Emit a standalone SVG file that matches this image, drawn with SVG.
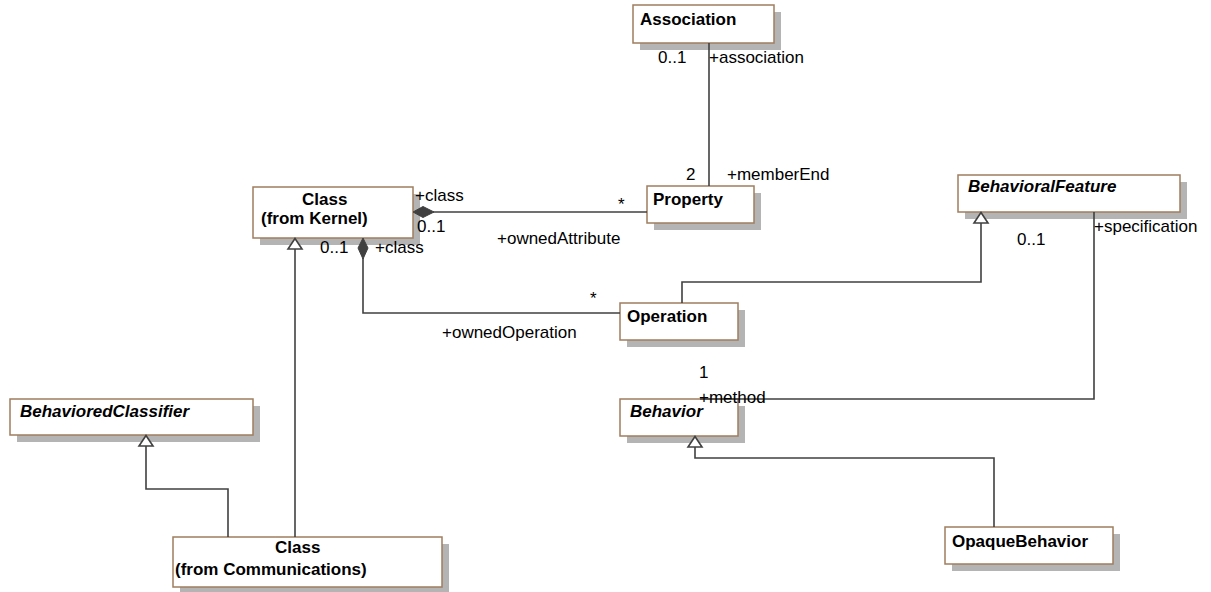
<svg xmlns="http://www.w3.org/2000/svg" width="1211" height="592" viewBox="0 0 1211 592">
  <style>
    .shadow { fill: #b4b4b4; }
    .box { fill: #ffffff; stroke: #a07d5e; stroke-width: 1.5; }
    .name { font-family: "Liberation Sans", Arial, sans-serif; font-size: 17px; font-weight: bold; fill: #000; }
    .abstract { font-style: italic; }
    .label { font-family: "Liberation Sans", Arial, sans-serif; font-size: 17px; fill: #000; }
    .edge { fill: none; stroke: #404040; stroke-width: 1.6; }
    .gen { fill: #ffffff; stroke: #404040; stroke-width: 1.6; }
    .comp { fill: #404040; stroke: #404040; stroke-width: 1; }
  </style>

  <rect width="1211" height="592" fill="#ffffff"/>

  <g id="association">
    <rect class="shadow" x="640" y="12" width="141" height="38"/>
    <rect class="box" x="633" y="5" width="141" height="38"/>
    <text class="name" x="640" y="25">Association</text>
  </g>

  <g id="class-kernel">
    <rect class="shadow" x="260" y="194" width="160" height="51"/>
    <rect class="box" x="253" y="187" width="160" height="51"/>
    <text class="name" x="302" y="205">Class</text>
    <text class="name" x="261" y="224">(from Kernel)</text>
  </g>

  <g id="property">
    <rect class="shadow" x="654" y="193" width="107" height="37"/>
    <rect class="box" x="647" y="186" width="107" height="37"/>
    <text class="name" x="653" y="205">Property</text>
  </g>

  <g id="behavioral-feature">
    <rect class="shadow" x="965" y="182" width="222" height="37"/>
    <rect class="box" x="958" y="175" width="222" height="37"/>
    <text class="name abstract" x="968" y="192">BehavioralFeature</text>
  </g>

  <g id="operation">
    <rect class="shadow" x="627" y="310" width="118" height="37"/>
    <rect class="box" x="620" y="303" width="118" height="37"/>
    <text class="name" x="627" y="322">Operation</text>
  </g>

  <g id="behaviored-classifier">
    <rect class="shadow" x="17" y="406" width="243" height="36"/>
    <rect class="box" x="10" y="399" width="243" height="36"/>
    <text class="name abstract" x="20" y="417">BehavioredClassifier</text>
  </g>

  <g id="behavior">
    <rect class="shadow" x="627" y="406" width="118" height="37"/>
    <rect class="box" x="620" y="399" width="118" height="37"/>
    <text class="name abstract" x="630" y="417">Behavior</text>
  </g>

  <g id="class-communications">
    <rect class="shadow" x="180" y="544" width="269" height="50"/>
    <rect class="box" x="173" y="537" width="269" height="50"/>
    <text class="name" x="275" y="553">Class</text>
    <text class="name" x="175" y="575">(from Communications)</text>
  </g>

  <g id="opaque-behavior">
    <rect class="shadow" x="952" y="534" width="168" height="37"/>
    <rect class="box" x="945" y="527" width="168" height="37"/>
    <text class="name" x="952" y="547">OpaqueBehavior</text>
  </g>

  <!-- connectors, drawn above the box shadows -->
  <g id="connectors">
    <!-- Association - Property -->
    <path class="edge" d="M709,43 V186"/>
    <!-- Class (Kernel) composition to Property -->
    <path class="edge" d="M433,212 H647"/>
    <polygon class="comp" points="413,212 423,206.5 434,212 423,217.5"/>
    <!-- Class (Kernel) composition to Operation -->
    <path class="edge" d="M363,258 V313 H620"/>
    <polygon class="comp" points="363,238 368,248 363,259 358,248"/>
    <!-- Operation generalizes BehavioralFeature -->
    <path class="edge" d="M682,303 V282 H981 V223"/>
    <polygon class="gen" points="981,212.5 988,223 974,223"/>
    <!-- BehavioralFeature specification / Behavior method -->
    <path class="edge" d="M1094,212 V399 H700"/>
    <!-- Class (Communications) generalizes Class (Kernel) -->
    <path class="edge" d="M295,537 V249"/>
    <polygon class="gen" points="295,238.5 302,249 288,249"/>
    <!-- Class (Communications) generalizes BehavioredClassifier -->
    <path class="edge" d="M228,537 V489 H146 V446"/>
    <polygon class="gen" points="146,435.5 153,446 139,446"/>
    <!-- OpaqueBehavior generalizes Behavior -->
    <path class="edge" d="M994,527 V458 H695 V447"/>
    <polygon class="gen" points="695,436.5 702,447 688,447"/>

    <!-- end labels -->
    <text class="label" x="658" y="63">0..1</text>
    <text class="label" x="709" y="63">+association</text>
    <text class="label" x="686" y="180">2</text>
    <text class="label" x="727" y="180">+memberEnd</text>
    <text class="label" x="415" y="201">+class</text>
    <text class="label" x="618" y="210">*</text>
    <text class="label" x="417" y="232">0..1</text>
    <text class="label" x="497" y="244">+ownedAttribute</text>
    <text class="label" x="320" y="253">0..1</text>
    <text class="label" x="375" y="253">+class</text>
    <text class="label" x="590" y="304">*</text>
    <text class="label" x="442" y="338">+ownedOperation</text>
    <text class="label" x="1094" y="232">+specification</text>
    <text class="label" x="1017" y="245">0..1</text>
    <text class="label" x="699" y="378">1</text>
    <text class="label" x="699" y="403">+method</text>
  </g>
</svg>
